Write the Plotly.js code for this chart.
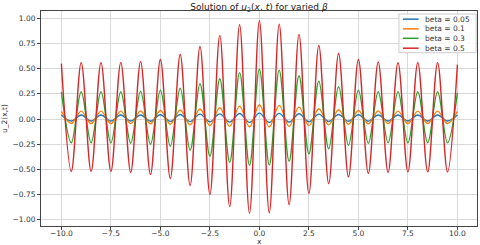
<!DOCTYPE html>
<html>
<head>
<meta charset="utf-8">
<script src="https://cdn.plot.ly/plotly-3.0.1.min.js"></script>
<style>html,body{margin:0;padding:0;background:#fff}#chart{width:480px;height:245px}</style>
</head>
<body>
<div id="chart"></div>
<script>
// x positions of successive extrema (peaks at integers, troughs at half-integers)
const xs = [-10,-9.5,-9,-8.5,-8,-7.5,-7,-6.5,-6,-5.5,-5,-4.5,-4,-3.5,-3,-2.5,-2,-1.5,-1,-0.5,0,0.5,1,1.5,2,2.5,3,3.5,4,4.5,5,5.5,6,6.5,7,7.5,8,8.5,9,9.5,10];

const beta005 = [0.04,-0.02,0.04,-0.02,0.04,-0.02,0.04,-0.02,0.04,-0.022,0.042,-0.024,0.045,-0.026,0.048,-0.028,0.051,-0.031,0.055,-0.034,0.058,-0.034,0.056,-0.031,0.052,-0.028,0.048,-0.025,0.045,-0.023,0.042,-0.021,0.04,-0.02,0.04,-0.02,0.04,-0.02,0.04,-0.02,0.039];
const beta01 = [0.075,-0.045,0.078,-0.045,0.078,-0.045,0.078,-0.046,0.08,-0.048,0.085,-0.052,0.09,-0.058,0.1,-0.065,0.112,-0.073,0.128,-0.08,0.142,-0.08,0.135,-0.074,0.118,-0.066,0.102,-0.058,0.092,-0.052,0.085,-0.048,0.08,-0.046,0.078,-0.045,0.078,-0.045,0.078,-0.045,0.075];
const beta03 = [0.27,-0.236,0.27,-0.236,0.27,-0.236,0.27,-0.24,0.275,-0.25,0.285,-0.27,0.305,-0.31,0.35,-0.37,0.40,-0.43,0.46,-0.46,0.495,-0.455,0.485,-0.42,0.43,-0.345,0.375,-0.295,0.32,-0.26,0.285,-0.24,0.27,-0.236,0.27,-0.236,0.27,-0.236,0.27,-0.236,0.26];
const beta05 = [0.55,-0.52,0.56,-0.52,0.56,-0.52,0.56,-0.53,0.57,-0.55,0.59,-0.59,0.64,-0.66,0.72,-0.75,0.83,-0.87,0.935,-0.935,0.975,-0.93,0.94,-0.85,0.84,-0.74,0.73,-0.64,0.65,-0.575,0.59,-0.54,0.565,-0.53,0.56,-0.525,0.56,-0.525,0.56,-0.525,0.54];

const names = ['beta = 0.05','beta = 0.1','beta = 0.3','beta = 0.5'];
const colors = ['#1f77b4','#ff7f0e','#2ca02c','#d62728'];
const series = [beta005, beta01, beta03, beta05];

const yTicks = [-1,-0.75,-0.5,-0.25,0,0.25,0.5,0.75,1];
const yTickText = ['\u22121.00','\u22120.75','\u22120.50','\u22120.25','0.00','0.25','0.50','0.75','1.00'];
const xTicks = [-10,-7.5,-5,-2.5,0,2.5,5,7.5,10];
const xTickText = ['\u221210.0','\u22127.5','\u22125.0','\u22122.5','0.0','2.5','5.0','7.5','10.0'];

const traces = series.map((s,i)=>({
  x: xs, y: s, type:'scatter', mode:'lines', name: names[i],
  line:{color: colors[i], width: 1.4, shape:'spline', smoothing:1}
}));

const font = {family:'DejaVu Sans, sans-serif', size:7.5, color:'#333'};

// hand-drawn legend (compact, matplotlib-like)
const shapes = [{type:'rect', xref:'paper', yref:'paper', x0:0.821, x1:0.998, y0:0.806, y1:0.986,
  line:{color:'#cccccc', width:1}, fillcolor:'rgba(255,255,255,0.85)', layer:'above'}];
const annotations = [];
const rowY = [0.962, 0.917, 0.873, 0.827];
names.forEach((n,i)=>{
  shapes.push({type:'line', xref:'paper', yref:'paper', x0:0.830, x1:0.866, y0:rowY[i], y1:rowY[i],
    line:{color:colors[i], width:1.5}, layer:'above'});
  annotations.push({xref:'paper', yref:'paper', x:0.876, y:rowY[i], xanchor:'left', yanchor:'middle',
    text:n, showarrow:false, font:{family:'DejaVu Sans, sans-serif', size:7.5, color:'#333'}});
});
// x-axis title
annotations.push({xref:'paper', yref:'paper', x:0.5, y:0, xanchor:'center', yanchor:'top', yshift:-9,
  text:'x', showarrow:false, font:font});

const layout = {
  width:480, height:245,
  margin:{l:41, r:3, t:11, b:19, pad:0},
  paper_bgcolor:'#fff', plot_bgcolor:'#fff',
  font: font,
  showlegend:false,
  shapes: shapes, annotations: annotations,
  title:{text:'Solution of <i>u</i><sub>2</sub>(<i>x</i>, <i>t</i>) for varied <i>β</i>', font:{family:'DejaVu Sans, sans-serif', size:9, color:'#222'}, x:0.5, xref:'paper', xanchor:'center', y:0.985, yanchor:'top'},
  xaxis:{range:[-11.03,10.99], tickvals:xTicks, ticktext:xTickText, showgrid:true, gridcolor:'#d9d9d9', gridwidth:1,
    zeroline:false, showline:true, mirror:true, linecolor:'#444', linewidth:1, ticks:'outside', ticklen:3, tickcolor:'#444',
    tickfont:font, ticklabelstandoff:-3, automargin:false},
  yaxis:{range:[-1.062,1.072], tickvals:yTicks, ticktext:yTickText, showgrid:true, gridcolor:'#d9d9d9', gridwidth:1,
    zeroline:false, showline:true, mirror:true, linecolor:'#444', linewidth:1, ticks:'outside', ticklen:3, tickcolor:'#444',
    tickfont:font, automargin:false, title:{text:'u_2(x,t)', font:font, standoff:4}}
};
Plotly.newPlot('chart', traces, layout, {staticPlot:true, displayModeBar:false});
</script>
</body>
</html>
